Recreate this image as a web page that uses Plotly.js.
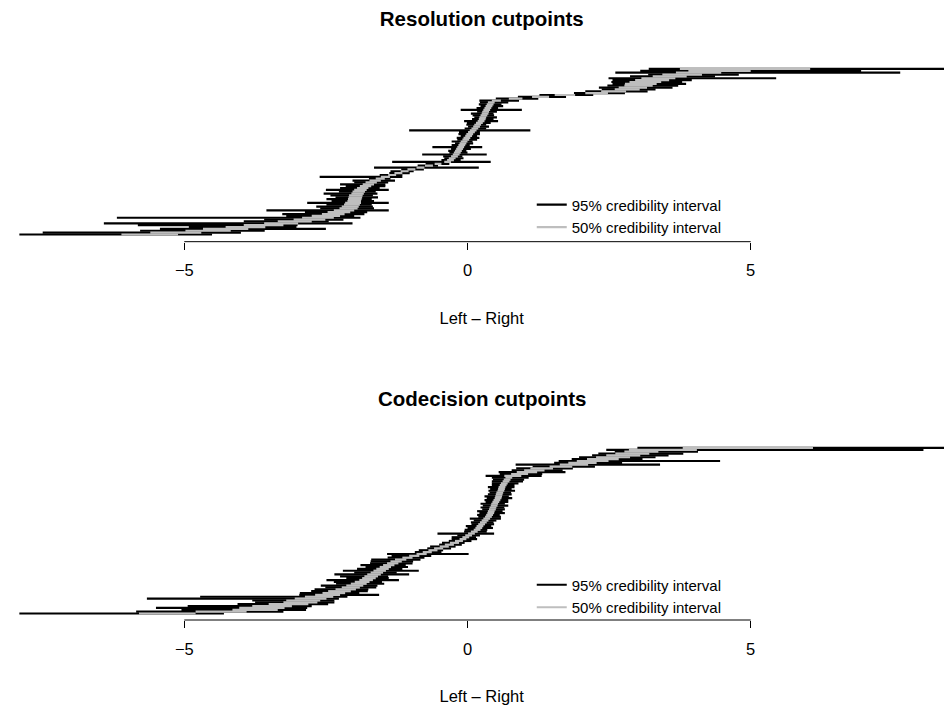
<!DOCTYPE html>
<html>
<head>
<meta charset="utf-8">
<script src="https://cdn.plot.ly/plotly-3.0.1.min.js"></script>
<style>
html,body{margin:0;padding:0;background:#ffffff;}
#chart{width:944px;height:710px;}
</style>
</head>
<body>
<div id="chart"></div>
<script>
// ---- text ----
const panelTitles = ['Resolution cutpoints', 'Codecision cutpoints'];
const axisTitle = 'Left \u2013 Right';
const legendLabels = ['95% credibility interval', '50% credibility interval'];
const tickVals = [-5, 0, 5];
const tickText = ['\u22125', '0', '5'];

// ---- Resolution cutpoints (sorted by median, bottom to top) ----
const resMedian = [
  -5.61,-5.15,-4.58,-4.27,-3.92,-3.60,-3.29,-3.05,-2.79,-2.64,
  -2.50,-2.37,-2.27,-2.18,-2.10,-2.07,-2.04,-2.02,-2.00,-1.99,
  -1.98,-1.97,-1.94,-1.92,-1.89,-1.85,-1.80,-1.75,-1.70,-1.63,
  -1.54,-1.45,-1.33,-1.22,-1.11,-0.99,-0.83,-0.68,-0.52,-0.35,
  -0.30,-0.27,-0.23,-0.20,-0.18,-0.16,-0.14,-0.12,-0.10,-0.08,
  -0.06,-0.03,-0.01,0.02,0.04,0.07,0.10,0.13,0.16,0.18,
  0.21,0.24,0.26,0.27,0.29,0.31,0.32,0.34,0.36,0.38,
  0.40,0.42,0.51,0.85,1.29,1.72,2.28,2.58,2.82,2.92,
  3.02,3.06,3.14,3.26,3.37,3.57,3.79,4.08,4.45,4.90
];
// distance from median down to the 2.5% limit
const resLo95 = [
  2.36,2.35,1.20,1.16,1.00,2.22,3.13,0.90,0.80,3.55,
  0.70,0.90,0.60,1.37,0.50,0.60,0.45,0.81,0.40,0.50,
  0.35,0.45,0.60,0.35,0.61,0.40,0.35,0.50,0.30,0.40,
  0.20,1.16,0.22,0.16,0.25,0.18,0.82,0.20,0.22,0.98,
  0.16,0.14,0.20,0.60,0.14,0.18,0.15,0.50,0.18,0.14,
  0.22,0.15,0.18,0.14,0.20,0.22,1.13,0.18,0.15,0.20,
  0.22,0.30,0.18,0.15,0.20,0.25,0.15,0.46,0.20,0.15,
  0.20,0.20,0.30,0.35,0.40,0.45,0.40,0.50,0.45,0.60,
  0.55,0.50,0.60,0.70,0.88,0.70,0.60,1.47,1.40,1.70
];
// distance from median up to the 97.5% limit
const resHi95 = [
  1.10,1.15,1.00,1.77,0.90,0.60,1.26,0.60,0.60,0.75,
  0.50,0.55,0.50,0.79,0.45,0.40,0.35,0.63,0.35,0.30,
  0.40,0.30,0.35,0.30,0.50,0.30,0.35,0.30,0.30,0.35,
  0.18,0.30,0.18,0.20,0.16,0.22,1.03,0.16,0.20,0.76,
  0.18,0.20,0.14,0.54,0.18,0.14,0.20,0.38,0.14,0.18,
  0.15,0.20,0.22,0.15,0.18,0.15,1.01,0.20,0.22,0.15,
  0.20,0.30,0.20,0.25,0.18,0.15,0.20,0.62,0.18,0.25,
  0.20,0.30,0.40,0.40,0.45,0.50,0.50,0.60,0.50,0.70,
  0.70,0.80,0.65,0.70,2.08,0.80,1.00,3.56,2.50,4.10
];
// half-width of the 50% interval
const resHalf50 = [
  0.50,0.45,0.40,0.40,0.35,0.35,0.30,0.30,0.28,0.28,
  0.25,0.20,0.20,0.18,0.16,0.15,0.14,0.14,0.12,0.12,
  0.12,0.12,0.11,0.11,0.11,0.10,0.10,0.10,0.10,0.10,
  0.08,0.08,0.07,0.07,0.07,0.07,0.07,0.07,0.06,0.06,
  0.06,0.06,0.06,0.06,0.06,0.06,0.06,0.06,0.06,0.06,
  0.06,0.06,0.06,0.06,0.06,0.06,0.06,0.06,0.06,0.06,
  0.06,0.06,0.06,0.06,0.06,0.06,0.06,0.06,0.06,0.06,
  0.06,0.06,0.08,0.12,0.15,0.18,0.20,0.22,0.22,0.25,
  0.25,0.28,0.28,0.30,0.30,0.30,0.35,0.40,0.55,1.15
];

// ---- Codecision cutpoints (sorted by median, bottom to top) ----
const codMedian = [
  -5.30,-4.35,-3.75,-3.63,-3.45,-3.16,-2.95,-2.90,-2.77,-2.62,
  -2.47,-2.36,-2.26,-2.15,-2.06,-1.99,-1.92,-1.86,-1.79,-1.74,
  -1.70,-1.65,-1.60,-1.55,-1.50,-1.45,-1.39,-1.32,-1.26,-1.18,
  -1.06,-0.94,-0.81,-0.71,-0.61,-0.51,-0.41,-0.32,-0.23,-0.15,
  -0.08,-0.03,0.02,0.07,0.12,0.17,0.20,0.22,0.25,0.28,
  0.31,0.34,0.37,0.39,0.41,0.42,0.44,0.45,0.47,0.48,
  0.50,0.52,0.54,0.55,0.56,0.57,0.59,0.60,0.61,0.63,
  0.65,0.68,0.70,0.73,0.80,0.92,1.05,1.18,1.31,1.65,
  1.88,2.03,2.21,2.39,2.57,2.75,2.91,3.07,3.45,4.95
];
const codLo95 = [
  2.80,1.50,1.30,1.87,1.49,0.90,0.80,0.90,2.89,2.10,
  0.50,0.60,0.50,0.55,0.45,0.60,0.40,0.50,0.70,0.40,
  0.55,0.70,0.40,0.65,0.45,0.35,0.50,0.40,0.45,0.52,
  0.35,0.40,0.61,0.22,0.25,0.20,0.25,0.18,0.22,0.18,
  0.20,0.25,0.20,0.60,0.18,0.22,0.20,0.25,0.18,0.22,
  0.20,0.30,0.18,0.22,0.20,0.25,0.18,0.22,0.20,0.25,
  0.18,0.22,0.20,0.25,0.20,0.18,0.22,0.20,0.25,0.20,
  0.22,0.25,0.25,0.30,0.48,0.35,0.50,0.40,0.45,0.50,
  1.03,0.50,0.60,0.55,0.60,0.55,0.60,0.47,1.00,1.95
];
const codHi95 = [
  1.00,1.10,0.90,0.80,0.70,0.70,0.60,0.55,0.50,0.50,
  0.91,0.45,0.50,0.40,0.45,0.40,0.45,0.35,0.58,0.35,
  0.30,0.62,0.35,0.69,0.35,0.40,0.30,0.35,0.30,0.35,
  0.30,0.30,0.83,0.25,0.18,0.22,0.20,0.22,0.18,0.22,
  0.25,0.18,0.20,0.40,0.22,0.18,0.25,0.20,0.22,0.18,
  0.20,0.25,0.22,0.18,0.25,0.20,0.22,0.20,0.25,0.18,
  0.22,0.20,0.25,0.18,0.22,0.20,0.25,0.18,0.22,0.20,
  0.25,0.30,0.30,0.35,0.51,0.40,0.68,0.50,0.55,0.60,
  1.52,0.70,2.25,0.70,0.75,0.80,0.90,1.00,4.60,4.05
];
const codHalf50 = [
  0.50,0.45,0.40,0.40,0.35,0.35,0.30,0.30,0.28,0.25,
  0.22,0.20,0.20,0.18,0.16,0.15,0.14,0.13,0.12,0.12,
  0.12,0.12,0.11,0.11,0.11,0.10,0.10,0.10,0.10,0.10,
  0.09,0.09,0.09,0.08,0.08,0.08,0.08,0.08,0.08,0.07,
  0.06,0.06,0.06,0.06,0.06,0.06,0.06,0.06,0.06,0.06,
  0.06,0.06,0.06,0.06,0.06,0.06,0.06,0.06,0.06,0.06,
  0.06,0.06,0.06,0.06,0.06,0.06,0.06,0.06,0.06,0.06,
  0.06,0.06,0.06,0.06,0.15,0.15,0.18,0.18,0.20,0.20,
  0.25,0.25,0.28,0.28,0.30,0.30,0.30,0.30,0.60,1.15
];

// ---- build horizontal interval segments ----
function segments(med, below, above) {
  const xs = [], ys = [];
  for (let i = 0; i < med.length; i++) {
    xs.push(med[i] - below[i], med[i] + above[i], null);
    ys.push(i + 1, i + 1, null);
  }
  return {x: xs, y: ys};
}

const BLACK = '#000000';
const GRAY = '#bebebe';
const LW = 2.2;

function panelTraces(med, lo95, hi95, half50, xa, ya, legendId) {
  const s95 = segments(med, lo95, hi95);
  const s50 = segments(med, half50, half50);
  return [
    {type: 'scatter', mode: 'lines', x: s95.x, y: s95.y, xaxis: xa, yaxis: ya,
     name: legendLabels[0], legend: legendId, line: {color: BLACK, width: LW},
     connectgaps: false, hoverinfo: 'skip'},
    {type: 'scatter', mode: 'lines', x: s50.x, y: s50.y, xaxis: xa, yaxis: ya,
     name: legendLabels[1], legend: legendId, line: {color: GRAY, width: LW},
     connectgaps: false, hoverinfo: 'skip'}
  ];
}

const data = []
  .concat(panelTraces(resMedian, resLo95, resHi95, resHalf50, 'x', 'y', 'legend'))
  .concat(panelTraces(codMedian, codLo95, codHi95, codHalf50, 'x2', 'y2', 'legend2'));

const FONT = 'Liberation Sans, Arial, Helvetica, sans-serif';
const topDom = [0.6596, 0.9155];
const botDom = [0.12676, 0.38169];

function xAxis(anchor) {
  return {
    anchor: anchor, domain: [0.0205, 1], range: [-7.912, 8.413],
    tickmode: 'array', tickvals: tickVals, ticktext: tickText,
    ticks: 'outside', ticklen: 7, tickwidth: 1, tickcolor: BLACK,
    ticklabelstandoff: 7,
    showline: false, showgrid: false, zeroline: false, fixedrange: true,
    tickfont: {family: FONT, size: 16.5, color: BLACK},
    title: {text: axisTitle, standoff: 33, font: {family: FONT, size: 16.5, color: BLACK}}
  };
}

const legendBase = {
  xanchor: 'left', yanchor: 'top', x: 0.5633,
  bgcolor: 'rgba(0,0,0,0)', borderwidth: 0, itemwidth: 30,
  font: {family: FONT, size: 15, color: BLACK}
};

const layout = {
  width: 944, height: 710,
  margin: {l: 0, r: 0, t: 0, b: 0},
  paper_bgcolor: '#ffffff', plot_bgcolor: '#ffffff',
  font: {family: FONT, size: 16.5, color: BLACK},
  title: {text: panelTitles[0], x: 0.5103, xanchor: 'center', xref: 'container',
          y: 1 - 19 / 710, yanchor: 'middle', yref: 'container',
          font: {family: FONT, size: 20.5, weight: 'bold', color: BLACK}},
  xaxis: xAxis('y'),
  yaxis: {domain: topDom, range: [-2.87, 94.82], visible: false, fixedrange: true},
  xaxis2: xAxis('y2'),
  yaxis2: {domain: botDom, range: [-2.49, 94.82], visible: false, fixedrange: true},
  legend: Object.assign({}, legendBase, {y: 0.7346}),
  legend2: Object.assign({}, legendBase, {y: 0.1993}),
  annotations: [{
    text: panelTitles[1], xref: 'paper', yref: 'paper', x: 0.5103, y: 1 - 398 / 710,
    xanchor: 'center', yanchor: 'middle', showarrow: false,
    font: {family: FONT, size: 20.5, weight: 'bold', color: BLACK}
  }],
  shapes: [
    {type: 'line', xref: 'x', yref: 'paper', x0: tickVals[0], x1: tickVals[tickVals.length - 1],
     y0: topDom[0], y1: topDom[0], line: {color: BLACK, width: 1}},
    {type: 'line', xref: 'x2', yref: 'paper', x0: tickVals[0], x1: tickVals[tickVals.length - 1],
     y0: botDom[0], y1: botDom[0], line: {color: BLACK, width: 1}}
  ],
  showlegend: true
};

Plotly.newPlot('chart', data, layout, {displayModeBar: false, staticPlot: true});
</script>
</body>
</html>
